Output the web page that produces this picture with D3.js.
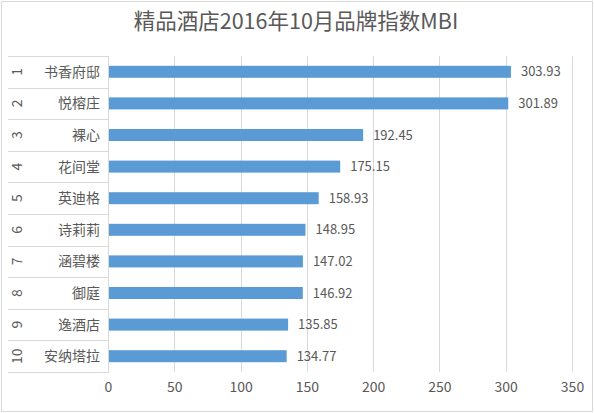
<!DOCTYPE html>
<html>
<head>
<meta charset="utf-8">
<script src="https://cdn.jsdelivr.net/npm/d3@7"></script>
<style>
  body { margin: 0; background: #fff; }
  text { font-family: "Microsoft YaHei", "Noto Sans CJK SC", sans-serif; fill: #595959; }
</style>
</head>
<body>
<div id="chart"></div>
<script>
var ranks = ["1", "2", "3", "4", "5", "6", "7", "8", "9", "10"];
var names = ["书香府邸", "悦榕庄", "裸心", "花间堂", "英迪格", "诗莉莉", "涵碧楼", "御庭", "逸酒店", "安纳塔拉"];
var values = [303.93, 301.89, 192.45, 175.15, 158.93, 148.95, 147.02, 146.92, 135.85, 134.77];
var xTicks = [0, 50, 100, 150, 200, 250, 300, 350];

var width = 594;
var height = 413;
// note: "top" would clash with window.top
var plotLeft = 108, plotRight = 572, plotTop = 56, plotBottom = 372;
var tableLeft = 8;

var rows = names.map(function (n, i) { return { rank: ranks[i], name: n, value: values[i] }; });

var svg = d3.select("#chart").append("svg")
  .attr("width", width)
  .attr("height", height);

// chart border
svg.append("rect")
  .attr("x", 1.5).attr("y", 1.5)
  .attr("width", width - 3).attr("height", height - 3)
  .attr("fill", "#fff")
  .attr("stroke", "#d9d9d9");

svg.append("text")
  .attr("x", 296).attr("y", 29)
  .attr("text-anchor", "middle")
  .style("font-size", "21.5px")
  .text("精品酒店2016年10月品牌指数MBI");

var xscale = d3.scaleLinear().domain([0, 350]).range([plotLeft, plotRight]);
var yscale = d3.scaleBand().domain(names).range([plotTop, plotBottom]).paddingInner(0.62).paddingOuter(0.31);
var band = d3.scaleBand().domain(names).range([plotTop, plotBottom]);

// vertical grid lines
svg.append("g")
  .selectAll("line")
  .data(xTicks.slice(1))
  .enter().append("line")
  .attr("x1", d => Math.round(xscale(d)) + 0.5).attr("x2", d => Math.round(xscale(d)) + 0.5)
  .attr("y1", plotTop).attr("y2", plotBottom)
  .attr("stroke", "#d9d9d9");

// label table lines
var seps = names.map(n => band(n)).concat([plotBottom]);
svg.append("g")
  .selectAll("line")
  .data(seps)
  .enter().append("line")
  .attr("x1", tableLeft).attr("x2", plotLeft)
  .attr("y1", d => Math.round(d) + 0.5).attr("y2", d => Math.round(d) + 0.5)
  .attr("stroke", "#d9d9d9");

svg.append("line")
  .attr("x1", plotLeft + 0.5).attr("x2", plotLeft + 0.5)
  .attr("y1", plotTop).attr("y2", plotBottom + 1)
  .attr("stroke", "#d9d9d9");

// bars
svg.append("g")
  .selectAll("rect")
  .data(rows)
  .enter().append("rect")
  .attr("x", xscale(0) + 1)
  .attr("y", d => yscale(d.name))
  .attr("width", d => xscale(d.value) - xscale(0) - 1)
  .attr("height", yscale.bandwidth())
  .attr("fill", "#5b9bd5");

// value labels
svg.append("g")
  .selectAll("text")
  .data(rows)
  .enter().append("text")
  .attr("x", d => xscale(d.value) + 10)
  .attr("y", d => band(d.name) + band.bandwidth() / 2)
  .attr("dy", "0.35em")
  .style("font-size", "13px")
  .text(d => d.value.toFixed(2));

// category names
svg.append("g")
  .selectAll("text")
  .data(rows)
  .enter().append("text")
  .attr("x", 100)
  .attr("y", d => band(d.name) + band.bandwidth() / 2)
  .attr("dy", "0.35em")
  .attr("text-anchor", "end")
  .style("font-size", "14px")
  .text(d => d.name);

// rank numbers, rotated
svg.append("g")
  .selectAll("text")
  .data(rows)
  .enter().append("text")
  .attr("transform", d => "translate(17," + (band(d.name) + band.bandwidth() / 2) + ") rotate(-90)")
  .attr("dy", "0.35em")
  .attr("text-anchor", "middle")
  .style("font-size", "14px")
  .text(d => d.rank);

// x axis
var xaxis = d3.axisBottom(xscale).tickValues(xTicks).tickSize(0).tickPadding(10);
var gx = svg.append("g")
  .attr("transform", "translate(0," + plotBottom + ")")
  .call(xaxis);
gx.select(".domain").remove();
gx.selectAll("text")
  .style("font-size", "14px")
  .style("font-family", null)
  .attr("fill", null);
</script>
</body>
</html>
